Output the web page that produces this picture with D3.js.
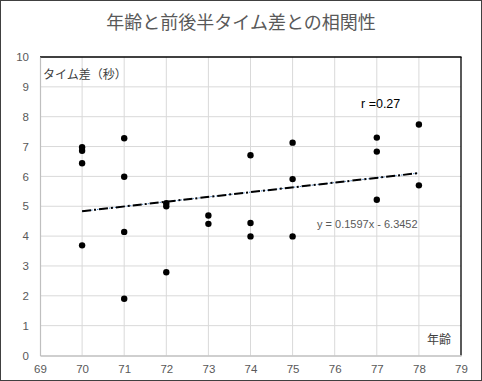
<!DOCTYPE html>
<html><head><meta charset="utf-8">
<script src="https://cdn.jsdelivr.net/npm/d3@7"></script>
<style>
html,body{margin:0;padding:0;background:#fff;}
svg{display:block;font-family:"Noto Sans CJK JP","Noto Sans",sans-serif;}
</style></head>
<body>
<svg id="c" width="482" height="381"></svg>
<script>
const title = "年齢と前後半タイム差との相関性";
const yTitle = "タイム差（秒）";
const xTitle = "年齢";
const ages = [70,70,70,70,71,71,71,71,72,72,72,73,73,74,74,74,75,75,75,77,77,77,78,78];
const diffs = [6.98,6.86,6.44,3.69,7.28,5.99,4.14,1.90,5.10,5.00,2.79,4.69,4.41,6.71,4.44,3.99,7.13,5.91,3.99,7.30,6.83,5.22,7.74,5.70];
const xTicks = [69,70,71,72,73,74,75,76,77,78,79];
const yTicks = [0,1,2,3,4,5,6,7,8,9,10];
const trendSlope = 0.1597, trendIntercept = -6.3452;
const trendRange = [70,78];
const eqLabel = "y = 0.1597x - 6.3452";
const rLabel = "r =0.27";

const svg = d3.select("#c");
const L=40, R=461, T=57, B=355.5;
const x = d3.scaleLinear().domain([69,79]).range([L,R]);
const y = d3.scaleLinear().domain([0,10]).range([B,T]);

// outer border
svg.append("rect").attr("x",0.5).attr("y",0.5).attr("width",481).attr("height",380)
  .attr("fill","#fff").attr("stroke","#404040").attr("stroke-width",1);

svg.append("text").attr("x",241).attr("y",29).attr("text-anchor","middle")
  .attr("font-size",18).attr("fill","#595959").text(title);

// gridlines
const g = svg.append("g");
g.selectAll(".vg").data(xTicks.slice(1,-1)).join("line")
  .attr("x1",d=>x(d)).attr("x2",d=>x(d)).attr("y1",T).attr("y2",B)
  .attr("stroke","#d9d9d9").attr("stroke-width",1);
g.selectAll(".hg").data(yTicks.slice(1,-1)).join("line")
  .attr("y1",d=>y(d)).attr("y2",d=>y(d)).attr("x1",L).attr("x2",R)
  .attr("stroke","#d9d9d9").attr("stroke-width",1);

// plot border: black top & right
svg.append("line").attr("x1",L).attr("x2",R+0.5).attr("y1",T).attr("y2",T).attr("stroke","#000").attr("stroke-width",1.3);
svg.append("line").attr("x1",R).attr("x2",R).attr("y1",T).attr("y2",B).attr("stroke","#000").attr("stroke-width",1.3);

// axes
const xAxis = d3.axisBottom(x).tickValues(xTicks).tickSize(0).tickPadding(9);
const yAxis = d3.axisLeft(y).tickValues(yTicks).tickSize(0).tickPadding(11);
const gx = svg.append("g").attr("transform",`translate(0,${B})`).call(xAxis);
const gy = svg.append("g").attr("transform",`translate(${L},0)`).call(yAxis);
[gx,gy].forEach(a=>{
  a.select(".domain").attr("stroke","#bfbfbf").attr("stroke-width",1.5);
  a.selectAll("text").attr("fill","#595959").attr("font-size",11.5)
   .attr("font-family","Liberation Sans, Arial, sans-serif");
});
gy.select(".domain").attr("stroke-width",1.2);

// trendline
const tl = d3.line().x(d=>x(d)).y(d=>y(trendSlope*d+trendIntercept));
svg.append("path").datum(trendRange).attr("d",tl).attr("fill","none")
  .attr("stroke","#4a7fc1").attr("stroke-width",1).attr("stroke-dasharray","1.5,1.5");
svg.append("path").datum(trendRange).attr("d",tl).attr("fill","none")
  .attr("stroke","#000").attr("stroke-width",2).attr("stroke-dasharray","9,3,2,3");

// points
svg.selectAll(".pt").data(ages.map((a,i)=>[a,diffs[i]])).join("circle")
  .attr("cx",d=>x(d[0])).attr("cy",d=>y(d[1])).attr("r",3.2).attr("fill","#000");

// labels
svg.append("text").attr("x",43).attr("y",79).attr("font-size",12).attr("fill","#404040").text(yTitle);
svg.append("text").attr("x",427).attr("y",344).attr("font-size",12).attr("fill","#404040").text(xTitle);
svg.append("text").attr("x",361).attr("y",108).attr("font-size",12.5).attr("fill","#000")
  .attr("font-family","Liberation Sans, Arial, sans-serif").text(rLabel);
svg.append("text").attr("x",317).attr("y",228).attr("font-size",11).attr("fill","#595959")
  .attr("font-family","Liberation Sans, Arial, sans-serif").text(eqLabel);
</script>
</body></html>
